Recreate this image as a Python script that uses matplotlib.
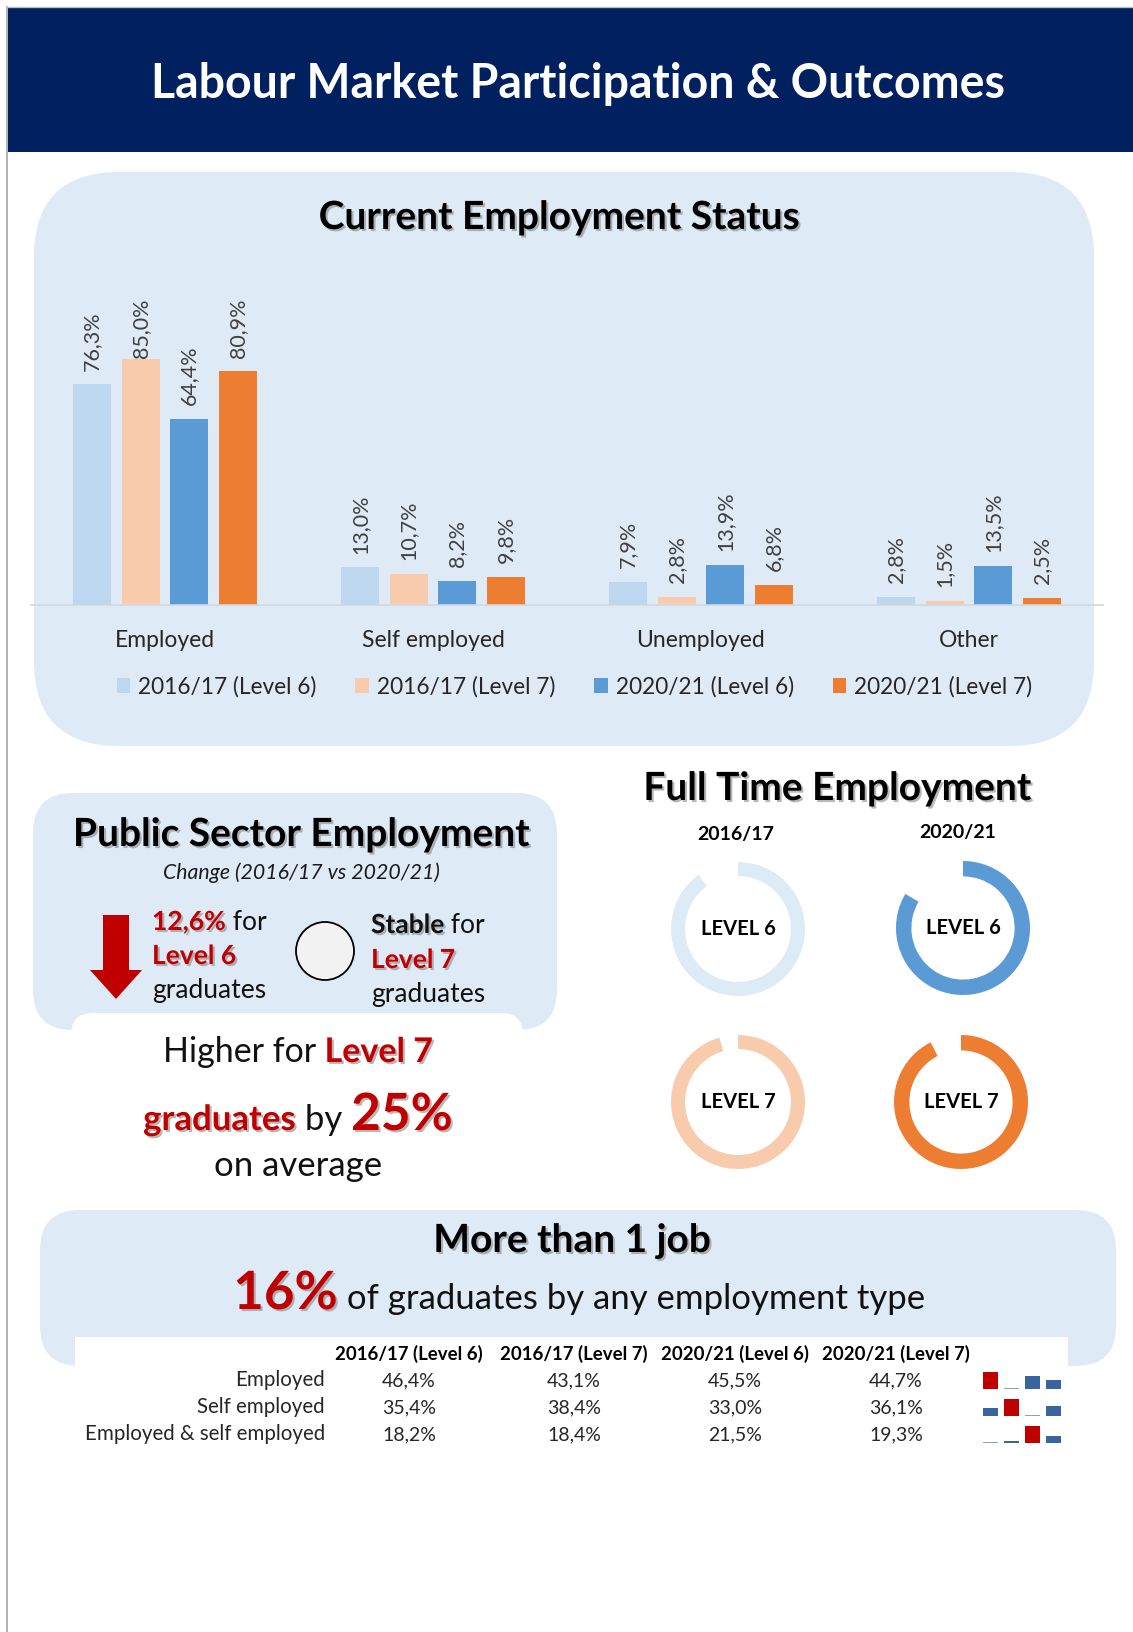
import matplotlib
matplotlib.use("Agg")
import matplotlib.pyplot as plt
import matplotlib.patheffects as pe
from matplotlib.patches import FancyBboxPatch, Rectangle, Circle, Polygon
import numpy as np

W, H = 1133, 1632

# current employment status, % of graduates
status_labels = ["Employed", "Self employed", "Unemployed", "Other"]
cohorts = ["2016/17 (Level 6)", "2016/17 (Level 7)", "2020/21 (Level 6)", "2020/21 (Level 7)"]
status_1617_l6 = [76.3, 13.0, 7.9, 2.8]
status_1617_l7 = [85.0, 10.7, 2.8, 1.5]
status_2021_l6 = [64.4, 8.2, 13.9, 13.5]
status_2021_l7 = [80.9, 9.8, 6.8, 2.5]

# full time share of employed graduates, % -> [Level 6, Level 7]
fulltime_1617 = [90.0, 95.5]
fulltime_2021 = [83.5, 92.5]

# graduates holding more than one job, split by employment type (%)
job_types = ["Employed", "Self employed", "Employed & self employed"]
jobs_1617_l6 = [46.4, 35.4, 18.2]
jobs_1617_l7 = [43.1, 38.4, 18.4]
jobs_2021_l6 = [45.5, 33.0, 21.5]
jobs_2021_l7 = [44.7, 36.1, 19.3]

public_drop_l6 = "12,6%"
public_gap_l7 = "25%"
multi_job_share = "16%"

NAVY = "#002060"
PANEL = "#DEEBF7"
RED = "#C00000"
cohort_colors = ["#BDD7EE", "#F8CBAD", "#5B9BD5", "#ED7D31"]
donut_colors = {"l6_1617": "#DDEBF7", "l6_2021": "#5B9BD5",
                "l7_1617": "#F8CBAD", "l7_2021": "#ED7D31"}

plt.rcParams["font.family"] = ["Lato", "DejaVu Sans"]

fig = plt.figure(figsize=(W / 100, H / 100), dpi=100)
bg = fig.add_axes([0, 0, 1, 1])
bg.set_xlim(0, W)
bg.set_ylim(H, 0)
bg.axis("off")

SHADOW = [pe.withSimplePatchShadow(offset=(1.5, -1.5), shadow_rgbFace="#7f7f7f", alpha=0.55)]
TITLE = dict(fontsize=28, fontweight="bold", ha="center", va="baseline", path_effects=SHADOW)


def px_axes(x0, y0, x1, y1):
    # axes placed in page pixels, y measured from the top
    return fig.add_axes([x0 / W, 1 - y1 / H, (x1 - x0) / W, (y1 - y0) / H])


def pct(v, digits=1):
    return f"{v:.{digits}f}%".replace(".", ",")


def text_run(x, y, parts, ha="left"):
    """Put (string, style) pieces one after another on a common baseline."""
    r = fig.canvas.get_renderer()
    items = [bg.text(0, y, s, ha="left", va="baseline", **style) for s, style in parts]
    widths = [t.get_window_extent(r).width for t in items]
    start = x - sum(widths) / 2 if ha == "center" else x
    for t, w in zip(items, widths):
        t.set_x(start)
        start += w
    return items


def panel(x0, y0, x1, y1, rad, color=PANEL, z=0):
    bg.add_patch(FancyBboxPatch((x0, y0), x1 - x0, y1 - y0,
                                boxstyle=f"round,pad=0,rounding_size={rad}",
                                facecolor=color, edgecolor="none", zorder=z))


red_bold = dict(color=RED, fontweight="bold", path_effects=SHADOW)

# page frame + header band
bg.plot([6.5, 6.5], [7, H], color="#A6A6A6", lw=1.2)
bg.plot([6.5, W], [7, 7], color="#BFBFBF", lw=1)
bg.add_patch(Rectangle((8, 8), W - 8, 144, facecolor=NAVY, edgecolor="none"))
bg.text(578, 98, "Labour Market Participation & Outcomes", color="white",
        fontsize=33.5, fontweight="bold", ha="center", va="baseline")

# ---- current employment status ----
panel(34, 172, 1094, 746, 85)
bg.text(559, 229, "Current Employment Status", **TITLE)

ax = px_axes(31, 316, 1103, 605)
ax.set_facecolor("none")
x = np.arange(len(status_labels))
step, width = 0.181, 0.143
series = [status_1617_l6, status_1617_l7, status_2021_l6, status_2021_l7]
labels = []
for i, (vals, name, col) in enumerate(zip(series, cohorts, cohort_colors)):
    bars = ax.bar(x + (i - 1.5) * step, vals, width, color=col, label=name)
    for b, v in zip(bars, vals):
        labels.append(ax.annotate(pct(v), (b.get_x() + b.get_width() / 2, v),
                                  xytext=(0, 10), textcoords="offset points",
                                  rotation=90, ha="center", va="bottom",
                                  fontsize=15.5, color="#404040"))
ax.set_xlim(-0.5, 3.5)
ax.set_ylim(0, 100)
for s in ["top", "left", "right"]:
    ax.spines[s].set_visible(False)
ax.spines["bottom"].set_color("#D0D8E0")
ax.spines["bottom"].set_linewidth(1.2)
ax.set_yticks([])
ax.set_xticks(x)
ax.set_xticklabels(status_labels, fontsize=16.5, color="#262626")
ax.tick_params(axis="x", length=0, pad=18)
ax.legend(loc="center", bbox_to_anchor=(0.507, -0.283), ncol=4, frameon=False,
          fontsize=16.3, handlelength=0.6, handleheight=0.6, handletextpad=0.35,
          columnspacing=1.72, labelcolor="#262626")

# keep value labels inside the plot area: clamp the tallest ones
r = fig.canvas.get_renderer()
ceiling = fig.bbox.height - 298
for lab in labels:
    bb = lab.get_window_extent(r)
    if bb.y1 > ceiling:
        ox, oy = lab.xyann
        lab.xyann = (ox, oy - (bb.y1 - ceiling) * 72 / fig.dpi)

# ---- public sector employment ----
panel(33, 793, 557, 1030, 40)
panel(71, 1013, 523, 1090, 22, color="white", z=1)
bg.text(301, 846, "Public Sector Employment", zorder=3, **TITLE)
bg.text(301, 879, "Change (2016/17 vs 2020/21)", fontsize=15.3, style="italic",
        ha="center", va="baseline", color="#1a1a1a", zorder=3)

bg.add_patch(Polygon([(103, 915), (129, 915), (129, 970), (142, 970),
                      (116, 999), (90, 970), (103, 970)],
                     closed=True, facecolor=RED, edgecolor="none", zorder=3))
plain = dict(color="#111111", zorder=3)
text_run(152, 930, [(public_drop_l6, dict(fontsize=19, **red_bold)), (" for", dict(fontsize=19, **plain))])
text_run(152, 964, [("Level 6", dict(fontsize=19, **red_bold))])
text_run(152, 998, [("graduates", dict(fontsize=19, **plain))])

bg.add_patch(Circle((325, 951), 29, facecolor="#F2F2F2", edgecolor="black", lw=1.3, zorder=3))
text_run(371, 933, [("Stable", dict(fontsize=19, fontweight="bold", color="#111111", path_effects=SHADOW)),
                    (" for", dict(fontsize=19, **plain))])
text_run(371, 968, [("Level 7", dict(fontsize=19, **red_bold))])
text_run(371, 1002, [("graduates", dict(fontsize=19, **plain))])

text_run(298, 1062, [("Higher for", dict(fontsize=24.5, color="#111111")),
                     (" Level 7", dict(fontsize=24.5, **red_bold))], ha="center")
text_run(298, 1130, [("graduates", dict(fontsize=25, **red_bold)),
                     (" by ", dict(fontsize=25, color="#111111")),
                     (public_gap_l7, dict(fontsize=37, **red_bold))], ha="center")
text_run(298, 1176, [("on average", dict(fontsize=25, color="#111111"))], ha="center")

# ---- full time employment ----
bg.text(837, 800, "Full Time Employment", **TITLE)
bg.text(736, 840, "2016/17", fontsize=14, fontweight="bold", ha="center", va="baseline")
bg.text(958, 838, "2020/21", fontsize=14, fontweight="bold", ha="center", va="baseline")


def donut(cx, cy, share, color, label, ring=0.21):
    R = 67
    a = px_axes(cx - 1.25 * R, cy - 1.25 * R, cx + 1.25 * R, cy + 1.25 * R)
    a.pie([share, 100 - share], colors=[color, "none"], startangle=90,
          counterclock=False, wedgeprops=dict(width=ring, linewidth=0))
    a.set_xlim(-1.25, 1.25)
    a.set_ylim(-1.25, 1.25)
    a.text(0, 0, label, ha="center", va="center", fontsize=14.5, fontweight="bold")


donut(738, 929, fulltime_1617[0], donut_colors["l6_1617"], "LEVEL 6")
donut(963, 928, fulltime_2021[0], donut_colors["l6_2021"], "LEVEL 6", ring=0.23)
donut(738, 1102, fulltime_1617[1], donut_colors["l7_1617"], "LEVEL 7")
donut(961, 1102, fulltime_2021[1], donut_colors["l7_2021"], "LEVEL 7", ring=0.23)

# ---- more than one job ----
panel(40, 1210, 1116, 1366, 40)
bg.add_patch(Rectangle((75, 1337), 993, 120, facecolor="white", edgecolor="none", zorder=1))
bg.text(572, 1252, "More than 1 job", **TITLE)
text_run(579, 1309, [(multi_job_share, dict(fontsize=38, **red_bold)),
                     (" of graduates by any employment type", dict(fontsize=25, color="#111111"))],
         ha="center")

col_x = [409, 574, 735, 896]
row_y = [1386, 1413, 1440]
for cx, name in zip(col_x, cohorts):
    bg.text(cx, 1360, name, fontsize=13.4, fontweight="bold", ha="center",
            va="baseline", zorder=2)
table_cols = [jobs_1617_l6, jobs_1617_l7, jobs_2021_l6, jobs_2021_l7]
for ri, (name, ry) in enumerate(zip(job_types, row_y)):
    bg.text(325, ry, name, fontsize=14.8, ha="right", va="baseline", color="#262626", zorder=2)
    for cx, col in zip(col_x, table_cols):
        bg.text(cx, ry, pct(col[ri]), fontsize=14, ha="center", va="baseline",
                color="#262626", zorder=2)

    # row sparkline: highest value in red, lowest as a flat stub
    vals = [col[ri] for col in table_cols]
    lo, hi = min(vals), max(vals)
    floor = lo - 0.08 * (hi - lo)
    sp = px_axes(980, ry - 14, 1064, ry + 3)
    colors = [RED if v == hi else ("#8EA2BF" if v == lo else "#3A64A0") for v in vals]
    sp.bar(range(4), [v - floor for v in vals], 0.72, bottom=floor, color=colors)
    sp.set_xlim(-0.5, 3.5)
    sp.set_ylim(floor, hi)
    sp.axis("off")

fig.savefig("out.png", dpi=100)
